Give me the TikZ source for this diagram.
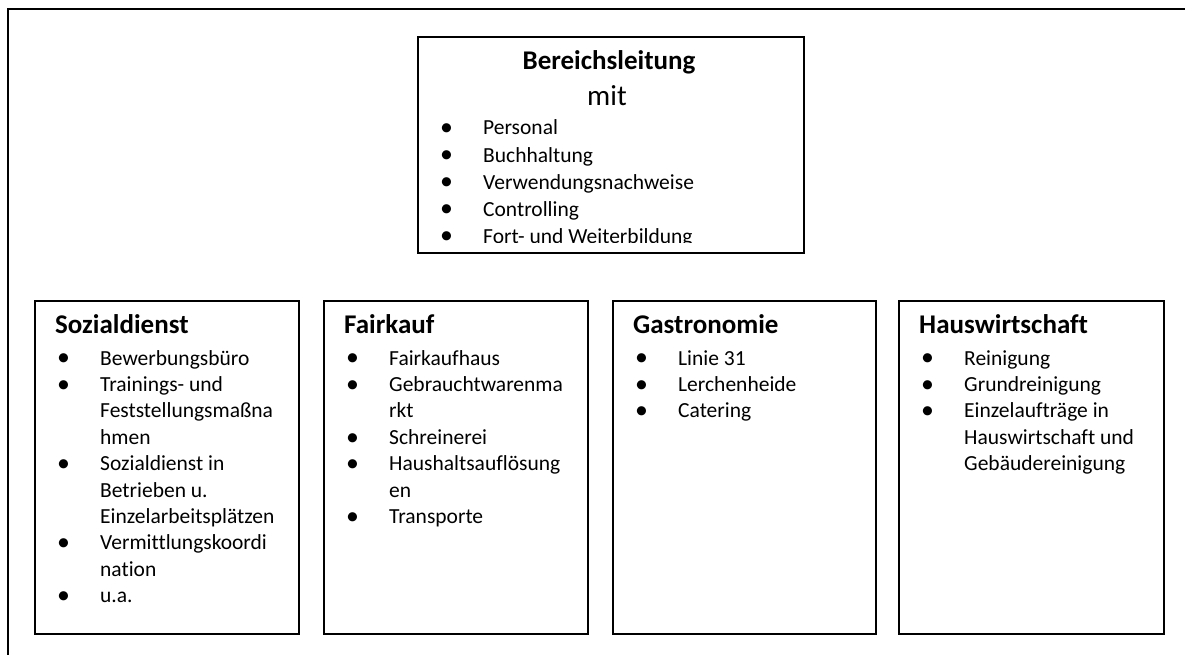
\documentclass[tikz,border=0pt]{standalone}
\usepackage{fontspec}
\setmainfont{Carlito}[Ligatures=NoCommon]
% bullet item and continuation line inside the unit lists
\newcommand{\itm}{\makebox[43pt][l]{\raisebox{-0.8pt}{\scalebox{1.2}{\textbullet}}}}
\newcommand{\cnt}{\hspace*{43pt}}
\begin{document}
\begin{tikzpicture}[x=1pt,y=-1pt,
  frame/.style={line width=2.4pt},
  unitbox/.style={draw, line width=2pt, rectangle, inner sep=0pt, anchor=north west},
  headtitle/.style={anchor=base, inner sep=0pt, font=\fontsize{27}{32}\selectfont\bfseries},
  boxtitle/.style={anchor=base west, inner sep=0pt, font=\fontsize{27}{32}\selectfont\bfseries},
  % a multi-line node sits on the baseline of its last line
  itemlist/.style={anchor=base west, inner sep=0pt, align=left, font=\fontsize{21.5}{26.4}\selectfont}]
\useasboundingbox (0,0) rectangle (1185,655);

% page frame (top and left edges)
\coordinate (fbl) at (8,656);
\coordinate (ftl) at (8,9);
\coordinate (ftr) at (1186,9);
\draw[frame] (fbl) -- (ftl) -- (ftr);

% management box
\node[unitbox, minimum width=386pt, minimum height=216pt] (lead) at (417,36) {};
\node[headtitle] (leadtitle) at (609,70) {Bereichsleitung};
\node[anchor=base, inner sep=0pt, font=\fontsize{29}{34}\selectfont] (leadmit) at (607,106) {mit};
\begin{scope}
  \clip (417,36) rectangle (803,242);
  \node[itemlist, font=\fontsize{21.5}{27}\selectfont] (leadlist) at (440,243)
    {\itm Personal\\\itm Buchhaltung\\\itm Verwendungsnachweise\\\itm Controlling\\\itm Fort- und Weiterbildung};
\end{scope}

% Sozialdienst
\node[unitbox, minimum width=264pt, minimum height=333pt] (soz) at (34,300) {};
\node[boxtitle] (soztitle) at (55,333) {Sozialdienst};
\node[itemlist] (sozlist) at (57,602.6)
  {\itm Bewerbungsbüro\\\itm Trainings- und\\\cnt Feststellungsmaßna\\\cnt hmen\\\itm Sozialdienst in\\\cnt Betrieben u.\\\cnt Einzelarbeitsplätzen\\\itm Vermittlungskoordi\\\cnt nation\\\itm u.a.};

% Fairkauf
\node[unitbox, minimum width=264pt, minimum height=333pt] (fair) at (323,300) {};
\node[boxtitle] (fairtitle) at (344,333) {Fairkauf};
\node[itemlist] (fairlist) at (346,523.4)
  {\itm Fairkaufhaus\\\itm Gebrauchtwarenma\\\cnt rkt\\\itm Schreinerei\\\itm Haushaltsauflösung\\\cnt en\\\itm Transporte};

% Gastronomie
\node[unitbox, minimum width=263pt, minimum height=333pt] (gastro) at (612,300) {};
\node[boxtitle] (gastrotitle) at (633,333) {Gastronomie};
\node[itemlist] (gastrolist) at (635,417.8)
  {\itm Linie 31\\\itm Lerchenheide\\\itm Catering};

% Hauswirtschaft
\node[unitbox, minimum width=265pt, minimum height=333pt] (haus) at (898,300) {};
\node[boxtitle] (haustitle) at (919,333) {Hauswirtschaft};
\node[itemlist] (hauslist) at (921,470.6)
  {\itm Reinigung\\\itm Grundreinigung\\\itm Einzelaufträge in\\\cnt Hauswirtschaft und\\\cnt Gebäudereinigung};
\end{tikzpicture}
\end{document}
